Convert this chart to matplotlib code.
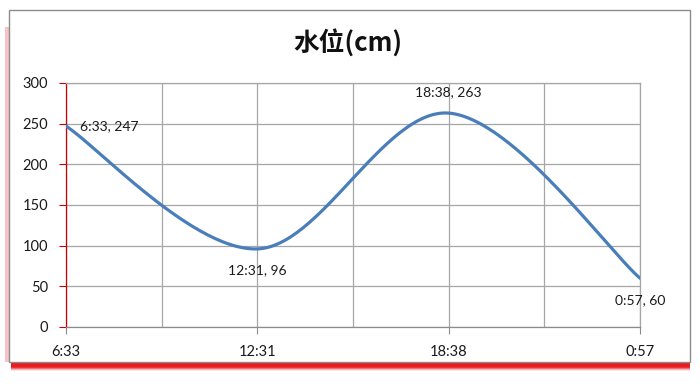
import numpy as np
import matplotlib.pyplot as plt
from matplotlib.patches import Rectangle

times = ['6:33', '12:31', '18:38', '0:57']
levels = [247, 96, 263, 60]
label_offsets = [(14, 0, 'left', 'center'), (0, -21, 'center', 'center'),
                 (0, 21, 'center', 'center'), (0, -22, 'center', 'center')]


def smooth(xs, ys, n=60):
    # Catmull-Rom style bezier, like Excel's "smoothed line"
    pts = np.column_stack([xs, ys]).astype(float)
    p = np.vstack([pts[0], pts, pts[-1]])
    out = []
    t = np.linspace(0, 1, n)[:, None]
    for i in range(1, len(p) - 2):
        p0, p1, p2, p3 = p[i - 1], p[i], p[i + 1], p[i + 2]
        c1 = p1 + (p2 - p0) / 6
        c2 = p2 - (p3 - p1) / 6
        seg = ((1 - t) ** 3) * p1 + 3 * ((1 - t) ** 2) * t * c1 + 3 * (1 - t) * t ** 2 * c2 + t ** 3 * p2
        out.append(seg)
    out = np.vstack(out)
    return out[:, 0], out[:, 1]


W, H = 700, 384
fig = plt.figure(figsize=(7, 3.84), dpi=100)

# chart frame with red shadow
for k, a in zip([9, 8, 7, 6, 5, 4], [0.1, 0.25, 0.45, 0.7, 0.9, 1.0]):
    fig.patches.append(Rectangle((11 / W, 1 - (362 + k) / H), 679 / W, 340 / H,
                                 transform=fig.transFigure, facecolor='#ea1a22', alpha=a,
                                 edgecolor='none', zorder=0))
fig.patches.append(Rectangle((5 / W, 1 - 362 / H), 5 / W, 335 / H, transform=fig.transFigure,
                             facecolor='#f6c4c8', edgecolor='none', zorder=0))
fig.patches.append(Rectangle((9 / W, 1 - 362 / H), 681 / W, 352 / H, transform=fig.transFigure,
                             facecolor='white', edgecolor='#8c8c8c', linewidth=1, zorder=1))

ax = fig.add_axes([66 / W, 1 - 327 / H, (640 - 66) / W, (327 - 83) / H])
ax.set_zorder(2)
ax.patch.set_alpha(0)

x = np.arange(len(times))
sx, sy = smooth(x, levels)
ax.plot(sx, sy, color='#4a7ebb', linewidth=2.3, solid_capstyle='round', zorder=3)

for xi, yi, t, (dx, dy, ha, va) in zip(x, levels, times, label_offsets):
    ax.annotate(f'{t}, {yi}', (xi, yi), xytext=(dx * 0.72, dy * 0.72), textcoords='offset points',
                ha=ha, va=va, fontsize=10, family='Lato', color='#1a1a1a', zorder=4)

ax.set_xlim(0, len(times) - 1)
ax.set_ylim(0, 300)
ax.set_yticks(np.arange(0, 301, 50))
ax.set_xticks(x)
ax.set_xticklabels(times)
ax.set_xticks(np.arange(0.5, len(times) - 1, 1), minor=True)
ax.grid(True, which='both', color='#a6a6a6', linewidth=0.9)
ax.tick_params(axis='x', which='minor', length=0)
ax.tick_params(axis='x', which='major', length=5, color='#8c8c8c', pad=8)
ax.tick_params(axis='y', length=5, color='#cc0000', pad=8)
for lab in ax.get_xticklabels() + ax.get_yticklabels():
    lab.set_fontsize(10.5)
    lab.set_family('Lato')
    lab.set_color('#1a1a1a')

ax.spines['left'].set_color('#cc0000')
ax.spines['bottom'].set_color('#8c8c8c')
ax.spines['top'].set_color('#a6a6a6')
ax.spines['right'].set_color('#a6a6a6')
for s in ax.spines.values():
    s.set_linewidth(0.9)

fig.text(348 / W, 1 - 43 / H, '水位(cm)', ha='center', va='center', fontsize=18.5,
         fontweight='bold', family=['Noto Sans CJK SC', 'DejaVu Sans'], color='#111111')

fig.savefig('out.png', dpi=100)
